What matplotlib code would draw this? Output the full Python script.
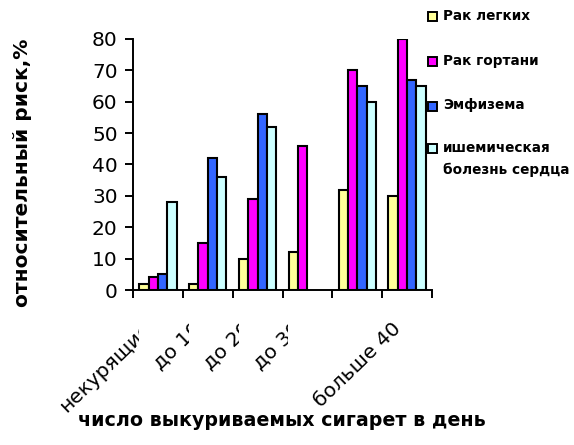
import numpy as np
import matplotlib
matplotlib.use("Agg")
import matplotlib.pyplot as plt
from matplotlib.patches import Rectangle
from matplotlib.transforms import ScaledTranslation, Bbox, TransformedBbox

# данные
kategorie = ['некурящие', 'до 10', 'до 20', 'до 30', '', 'больше 40']
rak_legkih = [2, 2, 10, 12, 32, 30]
rak_gortani = [4, 15, 29, 46, 70, 80]
emfizema = [5, 42, 56, np.nan, 65, 67]
ishemia = [28, 36, 52, np.nan, 60, 65]

serie = ['Рак легких', 'Рак гортани', 'Эмфизема', 'ишемическая\nболезнь сердца']
kolory = ['#FFFF99', '#FF00FF', '#3366FF', '#CCFFFF']
wartosci = [rak_legkih, rak_gortani, emfizema, ishemia]

W, H = 574, 445
fig = plt.figure(figsize=(W / 100, H / 100), dpi=100)
ax = fig.add_axes([133 / W, 1 - 290 / H, 299 / W, 251 / H])

x = np.arange(len(kategorie)) + 0.5
szer = 0.75 / 4
for k, (dane, kolor) in enumerate(zip(wartosci, kolory)):
    ax.bar(x + (k - 1.5) * szer, dane, width=szer, color=kolor,
           edgecolor='black', linewidth=1.5, zorder=3)

ax.set_xlim(0, len(kategorie))
ax.set_ylim(0, 80)
ax.set_yticks(range(0, 81, 10))
ax.set_xticks(np.arange(len(kategorie) + 1))
ax.set_xticklabels([])
ax.tick_params(axis='both', direction='out', length=6, width=1.4,
               labelsize=14.5, colors='black', pad=5)
for s in ['top', 'right']:
    ax.spines[s].set_visible(False)
for s in ['left', 'bottom']:
    ax.spines[s].set_linewidth(1.4)

# podpisy kategorii (obrócone, przycięte jak w oryginale)
przesun = ScaledTranslation(-9 / 100, -36 / 100, fig.dpi_scale_trans)
for i, (pozycja, tekst) in enumerate(zip(x, kategorie)):
    t = fig.text(pozycja, 0, tekst, transform=ax.get_xaxis_transform() + przesun,
                 rotation=44, rotation_mode='anchor', ha='right', va='center',
                 fontsize=14.5)
    if i < len(kategorie) - 1:
        t.set_clip_box(TransformedBbox(Bbox([[-10, -10], [i + 0.12, 10]]),
                                       ax.get_xaxis_transform()))
        t.set_clip_on(True)

ax.set_ylabel('относительный риск,%', fontsize=14.5, fontweight='bold', va='center')
ax.yaxis.set_label_coords((23 - 133) / 299, (290 - 173) / 251)
ax.set_xlabel('число выкуриваемых сигарет в день', fontsize=13.7,
              fontweight='bold', va='center')
ax.xaxis.set_label_coords((281 - 132) / 300, (290 - 420) / 251)

# legenda
y_leg = [16, 61, 106, 148]
for nazwa, kolor, y in zip(serie, kolory, y_leg):
    fig.add_artist(Rectangle((428 / W, 1 - (y + 4.5) / H), 9 / W, 9 / H,
                             transform=fig.transFigure, facecolor=kolor,
                             edgecolor='black', linewidth=1.4))
    fig.text(443 / W, 1 - (y - 7.5) / H, nazwa, fontsize=9.8, fontweight='bold',
             va='top', ha='left', linespacing=1.7)

fig.savefig('out.png', dpi=100)
